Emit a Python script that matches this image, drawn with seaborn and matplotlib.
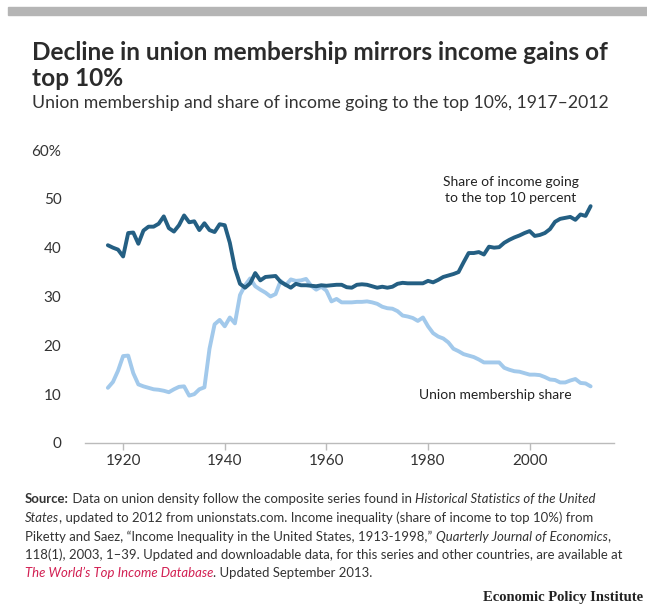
import numpy as np
import pandas as pd
import matplotlib
matplotlib.use("Agg")
import matplotlib.pyplot as plt
import seaborn as sns

years = list(range(1917, 2013))
income_top10 = [
    40.5, 40.0, 39.6, 38.2, 43.0, 43.1, 40.8, 43.5, 44.3, 44.3,
    44.9, 46.4, 44.0, 43.3, 44.6, 46.6, 45.2, 45.4, 43.6, 45.0,
    43.6, 43.2, 44.8, 44.6, 41.0, 35.8, 32.6, 31.8, 32.7, 34.8,
    33.3, 34.0, 34.1, 34.2, 33.0, 32.4, 31.8, 32.6, 32.3, 32.3,
    32.2, 32.1, 32.3, 32.2, 32.3, 32.4, 32.4, 31.9, 31.8, 32.4,
    32.5, 32.4, 32.1, 31.8, 32.0, 31.8, 32.0, 32.6, 32.8, 32.7,
    32.7, 32.7, 32.7, 33.2, 32.9, 33.4, 34.0, 34.3, 34.6, 35.0,
    37.0, 38.9, 38.9, 39.1, 38.6, 40.2, 40.0, 40.1, 41.0, 41.6,
    42.1, 42.5, 43.0, 43.4, 42.4, 42.6, 43.0, 43.8, 45.3, 45.9,
    46.1, 46.3, 45.7, 46.8, 46.5, 48.5,
]
union_share = [
    11.3, 12.5, 14.8, 17.8, 17.9, 14.3, 12.0, 11.6, 11.3, 11.0,
    10.9, 10.7, 10.4, 11.0, 11.5, 11.6, 9.7, 10.0, 11.0, 11.4,
    19.3, 24.3, 25.2, 23.9, 25.7, 24.5, 30.3, 32.3, 33.7, 32.1,
    31.4, 30.8, 30.0, 30.5, 33.2, 32.3, 33.5, 33.2, 33.3, 33.6,
    32.2, 31.4, 32.0, 31.2, 29.0, 29.5, 28.8, 28.8, 28.8, 28.9,
    28.9, 29.0, 28.8, 28.5, 27.9, 27.6, 27.5, 27.0, 26.1, 25.9,
    25.6, 25.0, 25.7, 23.9, 22.5, 21.8, 21.4, 20.6, 19.3, 18.8,
    18.2, 17.9, 17.6, 17.1, 16.5, 16.5, 16.5, 16.5, 15.4, 15.0,
    14.7, 14.6, 14.3, 14.0, 14.0, 13.9, 13.5, 13.0, 12.9, 12.4,
    12.4, 12.8, 13.1, 12.3, 12.2, 11.6,
]
series_names = ["Share of income going to the top 10 percent", "Union membership share"]
x_ticks = [1920, 1940, 1960, 1980, 2000]
y_ticks = [0, 10, 20, 30, 40, 50, 60]
y_tick_labels = ["0", "10", "20", "30", "40", "50", "60%"]

df = pd.DataFrame({
    "year": years * 2,
    "value": income_top10 + union_share,
    "series": [series_names[0]] * len(years) + [series_names[1]] * len(years),
})

sns.set_theme(style="white")
FONT = "Lato"
plt.rcParams["font.family"] = [FONT, "DejaVu Sans"]

W, H = 647, 610
fig = plt.figure(figsize=(W / 100, H / 100), dpi=100)
ax = fig.add_axes([85 / W, 1 - 443 / H, (614 - 85) / W, (443 - 150) / H])

palette = {series_names[0]: "#245f83", series_names[1]: "#a2c9eb"}
sns.lineplot(data=df, x="year", y="value", hue="series", palette=palette,
             linewidth=2.8, legend=False, ax=ax, hue_order=[series_names[1], series_names[0]])

ax.set_xlim(1912.5, 2016.6)
ax.set_ylim(0, 60)
ax.set_xticks(x_ticks)
ax.set_xticklabels([str(t) for t in x_ticks])
ax.set_yticks(y_ticks)
ax.set_yticklabels(y_tick_labels)
ax.set_xlabel("")
ax.set_ylabel("")
for s in ["top", "right", "left"]:
    ax.spines[s].set_visible(False)
ax.spines["bottom"].set_color("#bbbbbb")
ax.spines["bottom"].set_linewidth(1.0)
ax.tick_params(axis="x", length=5, color="#bbbbbb", width=1, labelsize=11,
               labelcolor="#333333", pad=3, bottom=True)
ax.tick_params(axis="y", length=0, labelsize=11, labelcolor="#333333", pad=17)
ax.grid(False)

ax.text(1996.3, 51.8, "Share of income going\nto the top 10 percent", ha="center",
        va="center", fontsize=10.0, color="#222222", linespacing=1.45)
ax.text(1993.2, 9.9, "Union membership share", ha="center", va="center",
        fontsize=10.0, color="#222222")

# top grey bar
fig.patches.append(plt.Rectangle((8 / W, 1 - 15 / H), 1 - 8 / W, 8 / H,
                                 transform=fig.transFigure, color="#b5b5b5", zorder=0))

renderer = fig.canvas.get_renderer()


def fit(t, target_px):
    bb = t.get_window_extent(renderer=renderer)
    t.set_fontsize(t.get_fontsize() * target_px / bb.width)
    return t


t1 = fig.text(32 / W, 1 - 52 / H, "Decline in union membership mirrors income gains of",
              fontsize=16, fontweight="bold", color="#2b2b2b", va="center")
fit(t1, 578)
fig.text(32 / W, 1 - 78 / H, "top 10%", fontsize=t1.get_fontsize(), fontweight="bold",
         color="#2b2b2b", va="center")
t3 = fig.text(32 / W, 1 - 103 / H,
              "Union membership and share of income going to the top 10%, 1917\u20132012",
              fontsize=12, color="#333333", va="center")
fit(t3, 574)

lines = [
    (499, [("Source:", "b"), (" Data on union density follow the composite series found in ", ""),
           ("Historical Statistics of the United", "i")]),
    (518, [("States", "i"), (", updated to 2012 from unionstats.com. Income inequality (share of income to top 10%) from", "")]),
    (537, [("Piketty and Saez, \u201cIncome Inequality in the United States, 1913-1998,\u201d ", ""),
           ("Quarterly Journal of Economics", "i"), (",", "")]),
    (555, [("118(1), 2003, 1\u201339. Updated and downloadable data, for this series and other countries, are available at", "")]),
    (573, [("The World\u2019s Top Income Database", "ir"), (". Updated September 2013.", "")]),
]


def seg_kw(style, size):
    kw = dict(fontsize=size, color="#333333", va="center")
    if "b" in style:
        kw["fontweight"] = "bold"
    if "i" in style:
        kw["fontstyle"] = "italic"
    if "r" in style:
        kw["color"] = "#d21f52"
    return kw


def draw_segments(y_px, segments, size, x_px=25):
    x = x_px / W
    texts = []
    for txt, style in segments:
        t = fig.text(x, 1 - y_px / H, txt, **seg_kw(style, size))
        bb = t.get_window_extent(renderer=renderer)
        x += bb.width / W
        texts.append(t)
    return x * W - x_px, texts


# pick a common size so the widest line spans about 598 px
probe = 10.0
widest = 0
for y_px, segs in lines:
    w, ts = draw_segments(y_px, segs, probe)
    widest = max(widest, w)
    for t in ts:
        t.remove()
SRC_SIZE = probe * 598 / widest
for y_px, segs in lines:
    draw_segments(y_px, segs, SRC_SIZE)

fig.text(643 / W, 1 - 597 / H, "Economic Policy Institute", ha="right", va="center",
         fontsize=10.5, fontweight="bold", family="Liberation Serif", color="#222222")

fig.savefig("out.png", dpi=100)
